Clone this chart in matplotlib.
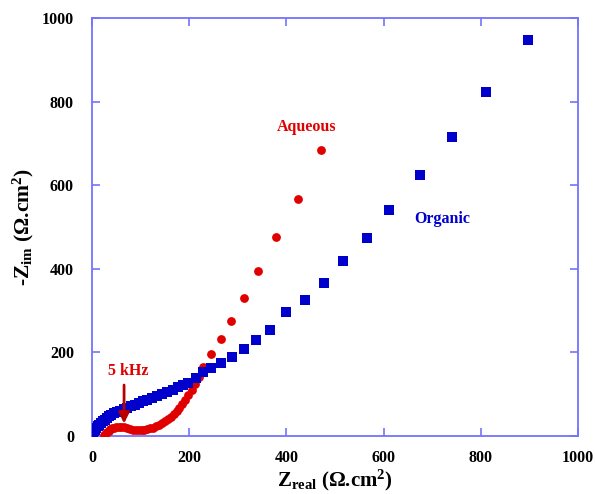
import matplotlib
matplotlib.use('Agg')
import matplotlib.pyplot as plt

plt.rcParams['font.family'] = ['Liberation Serif', 'DejaVu Serif']
plt.rcParams['font.weight'] = 'bold'
plt.rcParams['mathtext.fontset'] = 'custom'
plt.rcParams['mathtext.rm'] = 'Liberation Serif:bold'
plt.rcParams['mathtext.bf'] = 'Liberation Serif:bold'
plt.rcParams['mathtext.it'] = 'Liberation Serif:bold'

# organic electrolyte (squares)
org_x = [1, 3, 5, 7, 9, 12, 15, 18, 22, 26, 30, 35, 40, 46, 52, 58, 65, 72, 80, 88,
         96, 105, 114, 124, 134, 144, 155, 166, 177, 188, 198, 215, 229, 244, 265,
         289, 313, 337, 367, 399, 438, 478, 517, 565, 612, 675, 740, 810, 898]
org_y = [1, 6, 11, 15, 19, 23, 27, 31, 35, 39, 43, 47, 51, 55, 58, 61, 64, 68, 71, 75,
         79, 83, 87, 92, 96, 101, 106, 111, 117, 122, 127, 138, 154, 163, 175,
         188, 208, 230, 254, 296, 325, 367, 418, 474, 541, 624, 715, 823, 947]

# aqueous electrolyte (dots)
aq_x = [25, 28, 31, 34, 37, 41, 45, 50, 55, 60, 66, 72, 78, 84, 90, 96, 102, 108, 114,
        120, 126, 132, 138, 144, 150, 156, 162, 168, 174, 180, 186, 192, 198, 205,
        212, 220, 229, 245, 265, 286, 312, 342, 379, 423, 472]
aq_y = [2, 6, 10, 13, 16, 18, 20, 21, 22, 22, 21, 19, 17, 15, 14, 14, 14, 15, 16,
        18, 20, 23, 26, 30, 35, 40, 46, 52, 59, 67, 76, 86, 97, 110,
        125, 142, 166, 195, 231, 276, 330, 395, 476, 567, 685]

ticks = [0, 200, 400, 600, 800, 1000]
spine_col = '#7373ff'

fig = plt.figure(figsize=(5.95, 4.94), dpi=100)
ax = fig.add_axes([0.1546, 0.1174, 0.8168, 0.8462])

ax.scatter(aq_x, aq_y, s=40, marker='o', color='#e00000', linewidths=0, zorder=3)
ax.scatter(org_x, org_y, s=54, marker='s', color='#0000cc', linewidths=0, zorder=4)

ax.set_xlim(0, 1000)
ax.set_ylim(0, 1000)
ax.set_xticks(ticks)
ax.set_yticks(ticks)
ax.tick_params(direction='in', length=6, width=1.2, color=spine_col,
               top=True, right=True, labelsize=11.5)
ax.tick_params(axis='x', pad=10)
ax.tick_params(axis='y', pad=13)
for lab in ax.get_xticklabels() + ax.get_yticklabels():
    lab.set_fontweight('bold')
for sp in ax.spines.values():
    sp.set_color(spine_col)
    sp.set_linewidth(1.3)

ax.set_xlabel(r'$\mathrm{Z}_{\mathrm{real}}$ ($\Omega$.cm$^2$)', fontsize=15,
              fontweight='bold', labelpad=1)
ax.set_ylabel(r'-$\mathrm{Z}_{\mathrm{im}}$ ($\Omega$.cm$^2$)', fontsize=15.5,
              fontweight='bold', labelpad=4)

ax.text(442, 739, 'Aqueous', color='#e00000', fontsize=11.5, fontweight='bold',
        ha='center', va='center')
ax.text(720, 519, 'Organic', color='#0000cc', fontsize=11.5, fontweight='bold',
        ha='center', va='center')
ax.text(75, 155, '5 kHz', color='#e00000', fontsize=11.5, fontweight='bold',
        ha='center', va='center')
ax.annotate('', xy=(66, 30), xytext=(66, 122),
            arrowprops=dict(arrowstyle='-|>', color='#b80000', lw=2,
                            mutation_scale=16, shrinkA=0, shrinkB=0), zorder=5)

fig.savefig('out.png', dpi=100)
